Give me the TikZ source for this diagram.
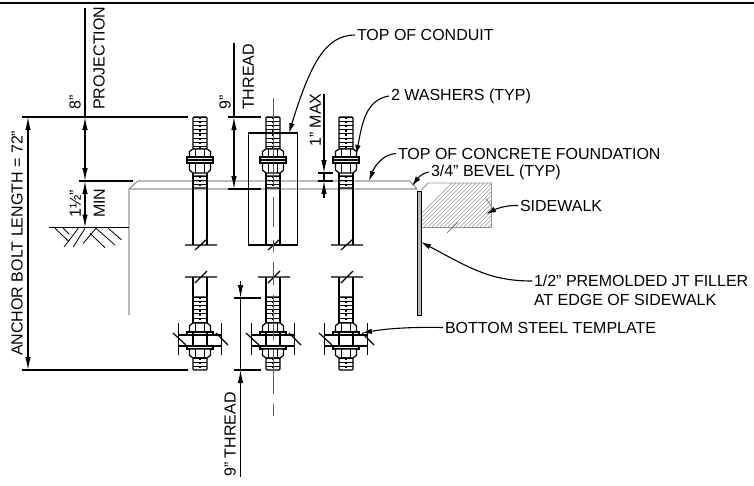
\documentclass[tikz,border=0pt]{standalone}
\usepackage{fontspec}
\setmainfont{Liberation Sans}
\usetikzlibrary{arrows.meta}

\tikzset{
  note/.style={anchor=west,inner sep=0pt,outer sep=2pt,font=\fontsize{16}{16}\selectfont},
  dimtext/.style={rotate=90,anchor=south west,inner sep=0pt,font=\fontsize{16}{16}\selectfont},
  leader/.style={-{Latex[length=10pt,width=5.5pt]},line width=1.1pt},
  dimline/.style={{Latex[length=13pt,width=5.5pt]}-{Latex[length=13pt,width=5.5pt]},line width=1.1pt},
  dimtip/.style={-{Latex[length=13pt,width=5.5pt]},line width=1.1pt},
  ext/.style={line width=1.2pt},
  conc/.style={gray!85,line width=1.1pt},
  steel/.style={line width=1.2pt},
  axis/.style={gray!70!black,line width=1pt},
}

% threaded length of a bolt, from y=#1 to y=#2
\newcommand{\boltthread}[2]{
  \draw[steel,rounded corners=1pt] (-7,#1) rectangle (7,#2);
  \pgfmathsetmacro{\tnext}{#1+4.2}
  \foreach \ty in {#1,\tnext,...,#2} \draw[line width=.65pt] (-7,\ty) -- (7,\ty);
  \draw[line width=1.5pt,dash pattern=on 2pt off 2.2pt] (0,#1) -- (0,#2);
}
% nut whose flat face is at y=#1 and chamfered face at y=#2
\newcommand{\boltnut}[2]{
  \draw[steel,fill=white] (-10.5,#1) -- (-10.5,{#2+(#1-#2)*.3}) -- (-7,#2) -- (7,#2) -- (10.5,{#2+(#1-#2)*.3}) -- (10.5,#1) -- cycle;
  \draw[steel] (-4.5,#1) -- (-4.5,#2) (4.5,#1) -- (4.5,#2);
}

\begin{document}
\begin{tikzpicture}[x=1pt,y=-1pt]
  \useasboundingbox (0,0) rectangle (754,485);
  \draw[line width=2.4pt] (0,3) -- (754,3);

  % foundation and ground
  \draw[conc] (129,315) -- (129,189) -- (138,181) -- (410,181) -- (417,189) -- (129,189);
  \draw[ext] (49,227.7) -- (129,227.7);
  \draw[line width=.8pt] (55,228.3) -- (68.3,241) (63,228) -- (69,234) (64,247) -- (78.3,228.3)
    (73.3,247) -- (85,228.3) (83.3,243.3) -- (96,228.3) (90,233.3) -- (105,247.7)
    (96,228.3) -- (115,245) (108.3,228.3) -- (121.7,240);

  % sidewalk
  \begin{scope}
    \clip (421.5,190) -- (428,183) -- (491.5,183) -- (491.5,227.5) -- (421.5,227.5) -- cycle;
    \foreach \hx in {400,404,...,540} \draw[gray!75,line width=.6pt] (\hx,235) -- (\hx+55,180);
  \end{scope}
  \draw[conc,line width=.9pt] (421.5,190) -- (428,183) -- (491.5,183) -- (491.5,227.5) -- (421.5,227.5);
  \draw[gray,line width=.8pt] (486,198) -- (495,212) (447,233) -- (458,222);

  % joint filler
  \draw[line width=1pt,fill=gray!55] (417,191.5) rectangle (421,315);

  % conduit
  \draw[steel] (248.5,133) rectangle (297.5,245);

  % bolts
  \foreach \bx in {200,273,346} {
    \begin{scope}[xshift=\bx pt]
      \boltthread{117}{149}
      \boltthread{176}{188}
      \draw[steel] (-7,173) -- (-7,245) (7,173) -- (7,245);
      \boltnut{157}{149}
      \boltnut{163}{173}
      \draw[steel,fill=white] (-13,157) rectangle (13,163);
      \draw[steel] (-13,160) -- (13,160);
      \draw[steel] (-15,245) -- (17,245) (-5,250) -- (7,239);
      \draw[steel] (-15,277) -- (17,277) (-5,283) -- (7,271);
      \draw[steel] (-7,277) -- (-7,335) (7,277) -- (7,335);
      \boltthread{297}{323}
      \boltnut{332}{323}
      \draw[steel] (-13,332) rectangle (13,335);
      \draw[steel] (-22,335) -- (22,335) (-22,346) -- (22,346);
      \draw[steel] (-7,335) -- (-7,346) (7,335) -- (7,346);
      \draw[steel] (-21.7,323) -- (-21.7,355) (21.7,323) -- (21.7,355);
      \draw[steel] (-27,333) -- (-14,345) (16,333) -- (28,345);
      \draw[steel] (-13,346) rectangle (13,349);
      \boltnut{349}{358}
      \boltthread{358}{370}
    \end{scope}
  }

  % centre line of middle bolt
  \draw[axis] (273,98) -- (273,185) (273,197) -- (273,227) (273,240) -- (273,252)
    (273,262) -- (273,285) (273,295) -- (273,340) (273,350) -- (273,394) (273,404) -- (273,416);

  % dimensions
  \draw[line width=1.5pt] (22,117) -- (188,117);
  \draw[line width=1.5pt] (22,370) -- (188,370);
  \draw[ext] (79,181) -- (133,181);
  \draw[line width=1.1pt] (85,8) -- (85,117);
  \draw[dimline] (85,117) -- (85,181);
  \draw[dimline] (85,181) -- (85,227.5);
  \draw[dimline] (28,117) -- (28,370);
  \draw[ext] (228,117) -- (261,117) (228,189) -- (261,189);
  \draw[line width=1.1pt] (234,43) -- (234,117);
  \draw[dimline] (234,117) -- (234,189);
  \draw[ext] (318,173) -- (333,173) (318,181) -- (333,181);
  \draw[line width=1.1pt] (324,173) -- (324,181);
  \draw[dimtip] (324,94) -- (324,173);
  \draw[dimtip] (324,198) -- (324,181);
  \draw[ext] (234,298) -- (261,298) (234,370) -- (261,370);
  \draw[line width=1.1pt] (240.5,298) -- (240.5,370);
  \draw[dimtip] (240.5,281) -- (240.5,298);
  \draw[dimtip] (240.5,477) -- (240.5,370);

  \node[dimtext] (projection) at (105,110) {PROJECTION};
  \node[dimtext] (eightin) at (81,110) {8"};
  \node[dimtext] (threadtop) at (254,110) {THREAD};
  \node[dimtext] (nineintop) at (231,110) {9"};
  \node[dimtext] (maxgap) at (321,147) {1" MAX};
  \node[dimtext] (minlabel) at (105,218) {MIN};
  \node[dimtext] (minvalue) at (81,218) {1½"};
  \node[dimtext] (boltlength) at (23,356) {ANCHOR BOLT LENGTH = 72"};
  \node[dimtext] (threadlow) at (236,477) {9" THREAD};

  % leaders
  \node[note] (conduit) at (355,35) {TOP OF CONDUIT};
  \node[note] (washers) at (389,96) {2 WASHERS (TYP)};
  \node[note] (concrete) at (396,153.5) {TOP OF CONCRETE FOUNDATION};
  \node[note] (bevel) at (429,172) {3/4" BEVEL (TYP)};
  \node[note] (sidewalk) at (518,205.5) {SIDEWALK};
  \node[note,align=left] (filler) at (532,290.5) {1/2" PREMOLDED JT FILLER\\[3pt]AT EDGE OF SIDEWALK};
  \node[note] (template) at (443,327.5) {BOTTOM STEEL TEMPLATE};

  \coordinate (conduittip) at (289,133);
  \coordinate (washerstip) at (356,155);
  \coordinate (concretetip) at (369,181);
  \coordinate (beveltip) at (412,186);
  \coordinate (sidewalktip) at (486,214);
  \coordinate (fillerstart) at (532,281);
  \coordinate (fillertip) at (421,242);
  \coordinate (templatetip) at (362,333);

  \draw[leader] (conduit.west) .. controls (325,35) and (310,65) .. (conduittip);
  \draw[leader] (washers.west) .. controls (365,100) and (362,125) .. (washerstip);
  \draw[leader] (concrete.west) .. controls (384,154) and (375,165) .. (concretetip);
  \draw[leader] (bevel.west) .. controls (422,173) and (418,178) .. (beveltip);
  \draw[leader] (sidewalk.west) .. controls (508,205) and (498,208) .. (sidewalktip);
  \draw[leader] (fillerstart) .. controls (490,281) and (470,268) .. (fillertip);
  \draw[leader] (template.west) .. controls (415,327) and (390,328) .. (templatetip);
\end{tikzpicture}
\end{document}
